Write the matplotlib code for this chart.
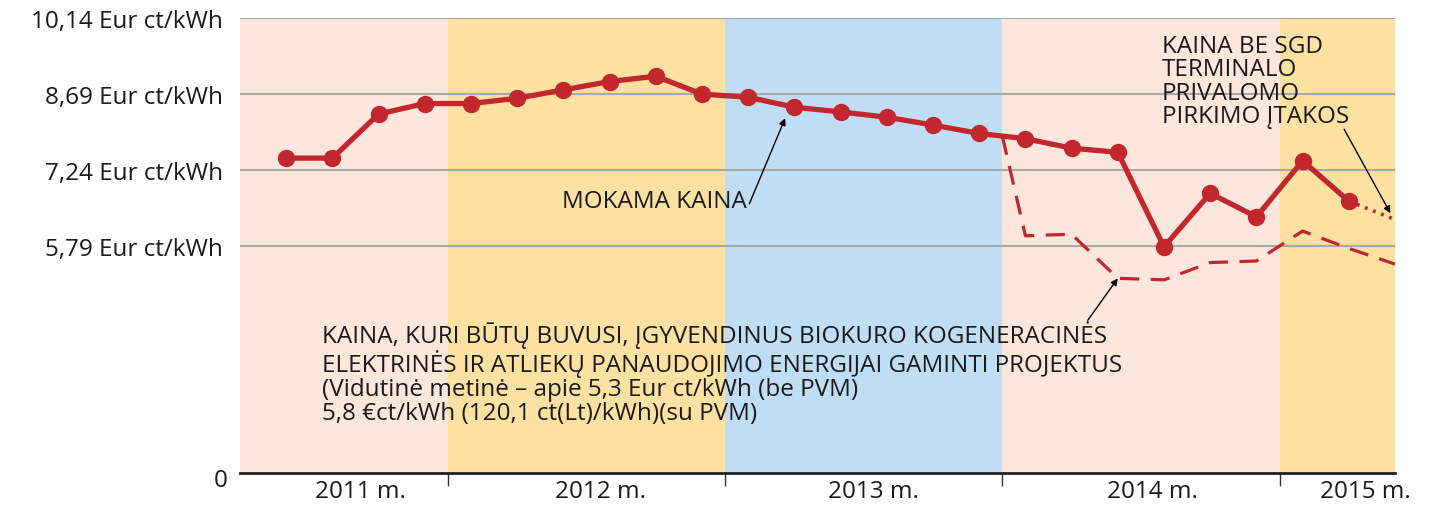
import matplotlib.pyplot as plt

plt.rcParams['font.family'] = ['Open Sans', 'DejaVu Sans']

# months counted from the start of April 2011
year_labels = ["2011 m.", "2012 m.", "2013 m.", "2014 m.", "2015 m."]
year_edges = [0, 9, 21, 33, 45, 50]
year_label_pos = [5.2, 15.6, 27.4, 39.5, 48.7]
year_colors = ["#FDE6DC", "#FDE1A2", "#BFDDF4", "#FDE6DC", "#FDE1A2"]

# paid price, every second month
paid_months = [2, 4, 6, 8, 10, 12, 14, 16, 18, 20, 22, 24, 26, 28, 30, 32,
               34, 36, 38, 40, 42, 44, 46, 48]
paid_price = [7.47, 7.47, 8.31, 8.51, 8.51, 8.61, 8.77, 8.93, 9.03, 8.69, 8.63, 8.44,
              8.35, 8.25, 8.10, 7.94, 7.84, 7.66, 7.58, 5.78, 6.80, 6.35, 7.42, 6.65]

# price without the LNG terminal purchase obligation
no_lng_months = [48, 50]
no_lng_price = [6.65, 6.30]

# price with biofuel cogeneration and waste-to-energy projects
bio_months = [33, 34, 36, 38, 40, 42, 44, 46, 48, 50]
bio_price = [7.89, 5.99, 6.02, 5.18, 5.15, 5.48, 5.51, 6.08, 5.75, 5.45]

y_bottom = 1.47
ytick_vals = [5.79, 7.24, 8.69, 10.14]
ytick_labels = ["5,79 Eur ct/kWh", "7,24 Eur ct/kWh", "8,69 Eur ct/kWh", "10,14 Eur ct/kWh"]

red = "#C1272D"
text_col = "#1a1a1a"
fs = 17.5

fig = plt.figure(figsize=(14.36, 5.06), dpi=100)
ax = fig.add_axes([240 / 1436, 1 - 474 / 506, 1155 / 1436, (474 - 19) / 506])

for i in range(len(year_labels)):
    ax.axvspan(year_edges[i], year_edges[i + 1], color=year_colors[i], lw=0, zorder=0)

for v in ytick_vals:
    ax.axhline(v, color="#A8A8A8", lw=1.5, zorder=1)

ax.plot(bio_months, bio_price, color=red, lw=2.3, dashes=(6, 3.6), zorder=3)
ax.plot(no_lng_months, no_lng_price, color=red, lw=2.6, dashes=(0.8, 1.6), zorder=3)
ax.plot(paid_months, paid_price, color=red, lw=3.8, marker="o", ms=11.5, zorder=4)

ax.set_xlim(year_edges[0], year_edges[-1])
ax.set_ylim(y_bottom, ytick_vals[-1])

ax.set_yticks(ytick_vals)
ax.set_yticklabels(ytick_labels, fontsize=fs, color=text_col)
ax.tick_params(axis="y", length=0, pad=12)
ax.text(-0.0104, -0.015, "0", transform=ax.transAxes, ha="right", va="center",
        fontsize=fs, color=text_col)

ax.set_xticks(year_edges[1:-1])
ax.set_xticklabels([])
ax.tick_params(axis="x", length=9, width=1, color="#333333", direction="out")
for pos, lab in zip(year_label_pos, year_labels):
    ax.text(pos, -0.04, lab, transform=ax.get_xaxis_transform(), ha="center", va="center",
            fontsize=fs, color=text_col)

for s in ["top", "right", "left"]:
    ax.spines[s].set_visible(False)
ax.spines["bottom"].set_linewidth(2)
ax.spines["bottom"].set_color("#222222")

arrow = dict(arrowstyle="-|>", color="black", lw=1, mutation_scale=10, shrinkA=0, shrinkB=0)

ax.text(21.95, 6.66, "MOKAMA KAINA", ha="right", va="center", fontsize=fs, color=text_col)
ax.annotate("", xy=(23.6, 8.23), xytext=(22.05, 6.6), arrowprops=arrow)

ax.text(39.9, 8.05, "KAINA BE SGD\nTERMINALO\nPRIVALOMO\nPIRKIMO ĮTAKOS", ha="left",
        va="bottom", fontsize=fs, color=text_col, linespacing=0.95)
ax.annotate("", xy=(49.8, 6.42), xytext=(47.8, 8.02), arrowprops=arrow)

ax.annotate("", xy=(38.0, 5.18), xytext=(36.7, 4.38), arrowprops=arrow)
ax.text(3.55, 4.38,
        "KAINA, KURI BŪTŲ BUVUSI, ĮGYVENDINUS BIOKURO KOGENERACINĖS\n"
        "ELEKTRINĖS IR ATLIEKŲ PANAUDOJIMO ENERGIJAI GAMINTI PROJEKTUS\n"
        "(Vidutinė metinė – apie 5,3 Eur ct/kWh (be PVM)\n"
        "5,8 €ct/kWh (120,1 ct(Lt)/kWh)(su PVM)",
        ha="left", va="top", fontsize=fs, color=text_col, linespacing=1.02)

fig.savefig("out.png", dpi=100)
